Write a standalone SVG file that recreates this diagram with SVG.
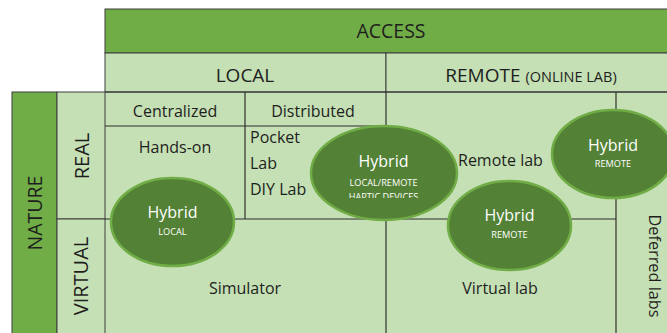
<svg xmlns="http://www.w3.org/2000/svg" width="667" height="333" viewBox="0 0 667 333">
<style>
text{font-family:"Open Sans","Noto Sans","Liberation Sans",sans-serif;fill:#1e1e1e}
.hd{fill:#70AD47;stroke:#3f3f3f;stroke-width:1}
.lt{fill:#C5E0B4;stroke:#3f3f3f;stroke-width:1}
.ln{stroke:#2f2f2f;stroke-width:1.2;fill:none}
.el{fill:#538135;stroke:#70AD47;stroke-width:2.5}
.t16{font-size:16px}
.hy{font-size:16px;fill:#ffffff;text-anchor:middle}
.sm{font-size:9.2px;fill:#ffffff;text-anchor:middle}
.c{text-anchor:middle}
</style>
<defs>
<clipPath id="clipHaptic"><rect x="300" y="120" width="170" height="78"/></clipPath>
</defs>
<rect x="105" y="92" width="570" height="250" fill="#C5E0B4"/>
<g id="access">
<rect class="hd" x="105" y="9" width="570" height="44"/>
<text x="391" y="38" class="c" font-size="19.5">ACCESS</text>
</g>
<g id="local">
<rect class="lt" x="105" y="53" width="281" height="39"/>
<text x="245" y="82" class="c" font-size="19">LOCAL</text>
</g>
<g id="remote">
<rect class="lt" x="386" y="53" width="290" height="39"/>
<text x="531" y="82" class="c" font-size="19">REMOTE <tspan font-size="14.5">(ONLINE LAB)</tspan></text>
</g>
<g id="nature">
<rect class="hd" x="12" y="92" width="45" height="250"/>
<text transform="translate(35,213) rotate(-90)" x="0" y="7" class="c" font-size="19.5">NATURE</text>
</g>
<g id="real">
<rect class="lt" x="57" y="92" width="48" height="127"/>
<text transform="translate(82,156) rotate(-90)" x="0" y="7" class="c" font-size="20">REAL</text>
</g>
<g id="virtual">
<rect class="lt" x="57" y="219" width="48" height="123"/>
<text transform="translate(81,276) rotate(-90)" x="0" y="7" class="c" font-size="20">VIRTUAL</text>
</g>
<g id="grid">
<line class="ln" x1="105" y1="92" x2="667" y2="92"/>
<line class="ln" x1="105" y1="126" x2="386" y2="126"/>
<line class="ln" x1="245" y1="92" x2="245" y2="219"/>
<line class="ln" x1="386" y1="92" x2="386" y2="333"/>
<line class="ln" x1="105" y1="219" x2="616" y2="219"/>
<line class="ln" x1="616" y1="92" x2="616" y2="333"/>
</g>
<g id="centralized"><text x="175" y="116.5" class="c t16">Centralized</text></g>
<g id="distributed"><text x="313" y="116.5" class="c t16">Distributed</text></g>
<g id="hands-on"><text x="175" y="152.5" class="c t16">Hands-on</text></g>
<g id="pocket-lab">
<text x="250" y="142.5" class="t16">Pocket</text>
<text x="250" y="168.5" class="t16">Lab</text>
<text x="250" y="194.5" class="t16">DIY Lab</text>
</g>
<g id="remote-lab"><text x="458" y="166" class="t16">Remote lab</text></g>
<g id="simulator"><text x="245" y="293.5" class="c t16">Simulator</text></g>
<g id="virtual-lab"><text x="500" y="293.5" class="c t16">Virtual lab</text></g>
<g id="deferred-labs"><text transform="translate(655,266) rotate(90)" x="0" y="6" class="c" font-size="16.3">Deferred labs</text></g>
<g id="hybrid-local">
<ellipse class="el" cx="172.5" cy="222" rx="61.5" ry="44"/>
<text x="172.5" y="218" class="hy">Hybrid</text>
<text x="172.5" y="235.3" class="sm" font-size="9">LOCAL</text>
</g>
<g id="hybrid-local-remote">
<ellipse class="el" cx="384" cy="173" rx="73" ry="47"/>
<text x="383.5" y="166.7" class="hy">Hybrid</text>
<text x="383.5" y="185.5" class="sm">LOCAL/REMOTE</text>
<text x="383.5" y="199.5" class="sm" clip-path="url(#clipHaptic)">HAPTIC DEVICES</text>
</g>
<g id="hybrid-remote">
<ellipse class="el" cx="509.5" cy="225.5" rx="61.5" ry="44.5"/>
<text x="509.5" y="221.3" class="hy">Hybrid</text>
<text x="509.5" y="238.3" class="sm">REMOTE</text>
</g>
<g id="hybrid-remote-top">
<ellipse class="el" cx="613" cy="154" rx="61" ry="44"/>
<text x="613" y="150.7" class="hy">Hybrid</text>
<text x="613" y="167.3" class="sm">REMOTE</text>
</g>
</svg>
